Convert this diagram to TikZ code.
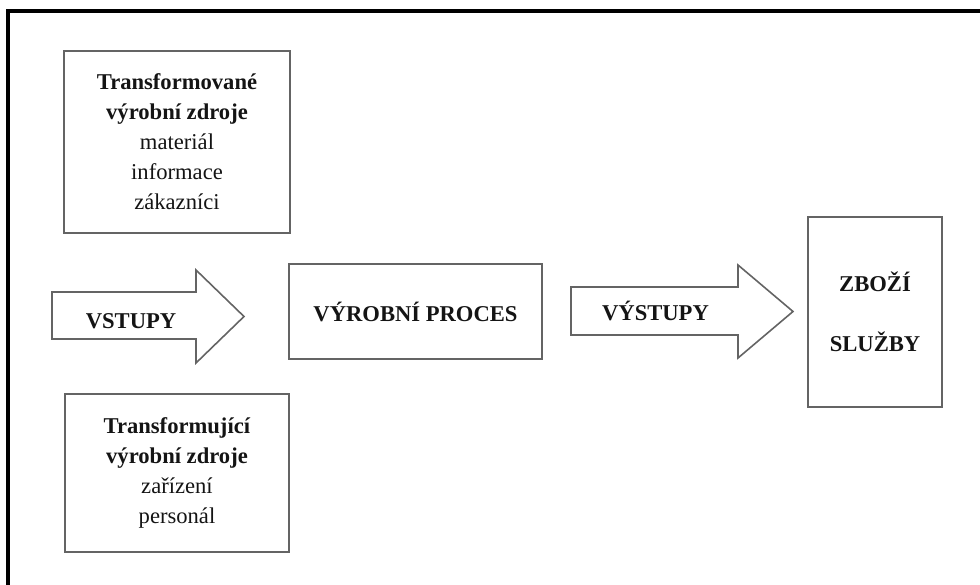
\documentclass[tikz,border=0pt]{standalone}
\usepackage{fontspec}
\setmainfont{Liberation Serif}
\definecolor{edge}{RGB}{100,100,100}
\definecolor{ink}{RGB}{20,20,20}
\newcommand{\diagfont}{\fontsize{22.6}{30}\selectfont}
\tikzset{
  frameline/.style={line width=3.4pt, black, line join=miter},
  box/.style={draw=edge, line width=1.6pt, inner sep=0pt, align=center,
              text=ink, font=\diagfont},
  boldbox/.style={box, font=\bfseries\diagfont},
  blockarrow/.style={draw=edge, line width=1.6pt, line join=miter},
  arrowlabel/.style={text=ink, font=\bfseries\diagfont,
                     inner sep=0pt, anchor=base}
}
\begin{document}
\begin{tikzpicture}[x=1pt, y=-1pt]
  \useasboundingbox (0,0) rectangle (980,584);

  % open frame: top and left edges only
  \coordinate (frTop) at (990,11);
  \coordinate (frCorner) at (8,11);
  \coordinate (frBottom) at (8,594);
  \draw[frameline] (frTop) -- (frCorner) -- (frBottom);

  % resource boxes
  \node[box, minimum width=226pt, minimum height=182pt] (transformed) at (177,142)
    {\textbf{Transformované}\\\textbf{výrobní zdroje}\\materiál\\informace\\zákazníci};
  \node[box, minimum width=224pt, minimum height=158pt] (transforming) at (177,473)
    {\textbf{Transformující}\\\textbf{výrobní zdroje}\\zařízení\\personál};

  % process and result
  \node[boldbox, minimum width=253pt, minimum height=95pt]
    (process) at (415.5,311.5) {VÝROBNÍ PROCES};
  \node[boldbox, minimum width=134pt, minimum height=190pt]
    (goods) at (875,312) {ZBOŽÍ\\[30pt]SLUŽBY};

  % block arrows
  \draw[blockarrow] (52,292) -- (196,292) -- (196,270) -- (244,316.5)
    -- (196,363) -- (196,339) -- (52,339) -- cycle;
  \node[arrowlabel] (inputs) at (131,328) {VSTUPY};

  \draw[blockarrow] (571,287) -- (738,287) -- (738,265) -- (793,311.5)
    -- (738,358) -- (738,335) -- (571,335) -- cycle;
  \node[arrowlabel] (outputs) at (655.5,320) {VÝSTUPY};
\end{tikzpicture}
\end{document}
